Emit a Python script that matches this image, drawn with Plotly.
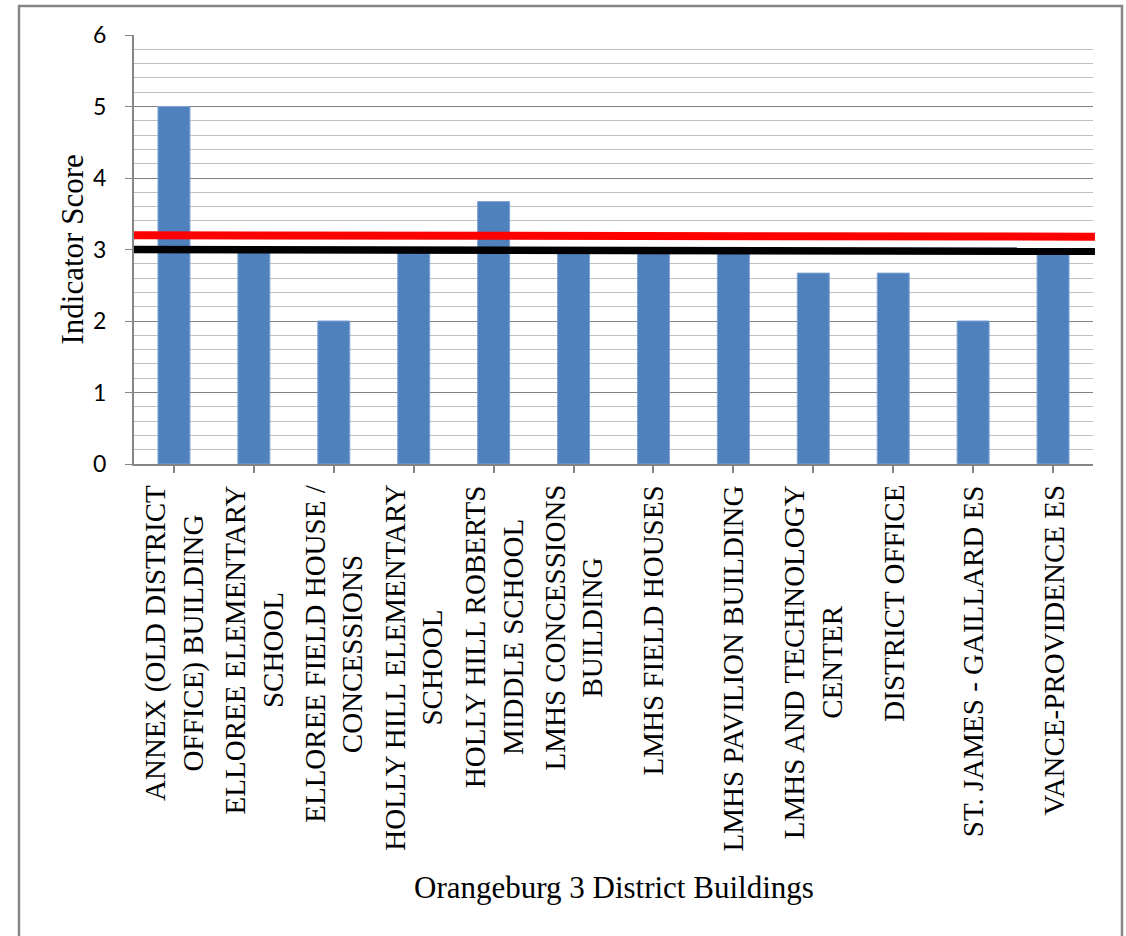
import plotly.graph_objects as go

categories = [
    "ANNEX (OLD DISTRICT<br>OFFICE) BUILDING",
    "ELLOREE ELEMENTARY<br>SCHOOL",
    "ELLOREE FIELD HOUSE /<br>CONCESSIONS",
    "HOLLY HILL ELEMENTARY<br>SCHOOL",
    "HOLLY HILL ROBERTS<br>MIDDLE SCHOOL",
    "LMHS CONCESSIONS<br>BUILDING",
    "LMHS FIELD HOUSES",
    "LMHS PAVILION BUILDING",
    "LMHS AND TECHNOLOGY<br>CENTER",
    "DISTRICT OFFICE",
    "ST. JAMES - GAILLARD ES",
    "VANCE-PROVIDENCE ES",
]
scores = [5, 3, 2, 3, 3.67, 3, 3, 3, 2.67, 2.67, 2, 3]
red_line = [3.20, 3.18]    # left, right
black_line = [3.0, 2.975]  # left, right
y_ticks = [0, 1, 2, 3, 4, 5, 6]

W, H = 1126, 936
L, R, T, B = 134, 33, 35, 472

fig = go.Figure()
fig.add_trace(go.Bar(
    x=list(range(len(categories))), y=scores,
    marker=dict(color="#4F81BD", line=dict(color="#7EA3D4", width=1)),
    width=0.4, hoverinfo="skip",
))

fig.update_yaxes(
    range=[0, 6], tickvals=y_ticks, ticks="outside", ticklen=7, tickcolor="#868686",
    showgrid=True, gridcolor="#808080", gridwidth=1.4,
    showline=True, linecolor="#868686", linewidth=2,
    tickfont=dict(family="Lato", size=23, color="black"),
    ticklabelstandoff=14,
    minor=dict(dtick=0.2, showgrid=True, gridcolor="#BFBFBF", gridwidth=1.3),
    zeroline=False,
)
fig.update_xaxes(
    range=[-0.5, len(categories) - 0.5], tickvals=list(range(len(categories))),
    ticks="outside", ticklen=7, tickcolor="#868686", tickwidth=2, tickson="boundaries",
    showticklabels=False, showgrid=False,
    showline=True, linecolor="#868686", linewidth=2, zeroline=False,
)

# reference lines
fig.add_shape(type="line", xref="paper", yref="y", x0=0, x1=1.002,
              y0=red_line[0], y1=red_line[1], line=dict(color="#FF0000", width=8))
fig.add_shape(type="line", xref="paper", yref="y", x0=0, x1=1.002,
              y0=black_line[0], y1=black_line[1], line=dict(color="#000000", width=7.5))

# outer frame
pw, ph = W - L - R, H - T - B
fig.add_shape(type="rect", xref="paper", yref="paper",
              x0=(19 - L) / pw, x1=(1122 - L) / pw,
              y0=-(H + 10 - T - ph) / ph, y1=1 + (T - 6) / ph,
              line=dict(color="#868686", width=2.5), layer="below")

# category labels
for i, c in enumerate(categories):
    fig.add_annotation(x=i, xref="x", y=0, yref="paper", yanchor="top", yshift=-19,
                       text=c, textangle=-90, showarrow=False, align="center",
                       font=dict(family="Liberation Serif", size=29, color="black"))

fig.add_annotation(x=0.5, xref="paper", y=(T + ph - 888) / ph, yref="paper",
                   xanchor="center", yanchor="middle",
                   text="Orangeburg 3 District Buildings", showarrow=False,
                   font=dict(family="Liberation Serif", size=31, color="black"))
fig.add_annotation(x=(72 - L) / pw, xref="paper", y=0.5, yref="paper",
                   xanchor="center", yanchor="middle",
                   text="Indicator Score", textangle=-90, showarrow=False,
                   font=dict(family="Liberation Serif", size=31, color="black"))

fig.update_layout(
    width=W, height=H, margin=dict(l=L, r=R, t=T, b=B),
    paper_bgcolor="white", plot_bgcolor="white", showlegend=False,
)
fig.write_html("out.html", config={"displayModeBar": False},
               post_script="document.body.style.margin='0px';")
